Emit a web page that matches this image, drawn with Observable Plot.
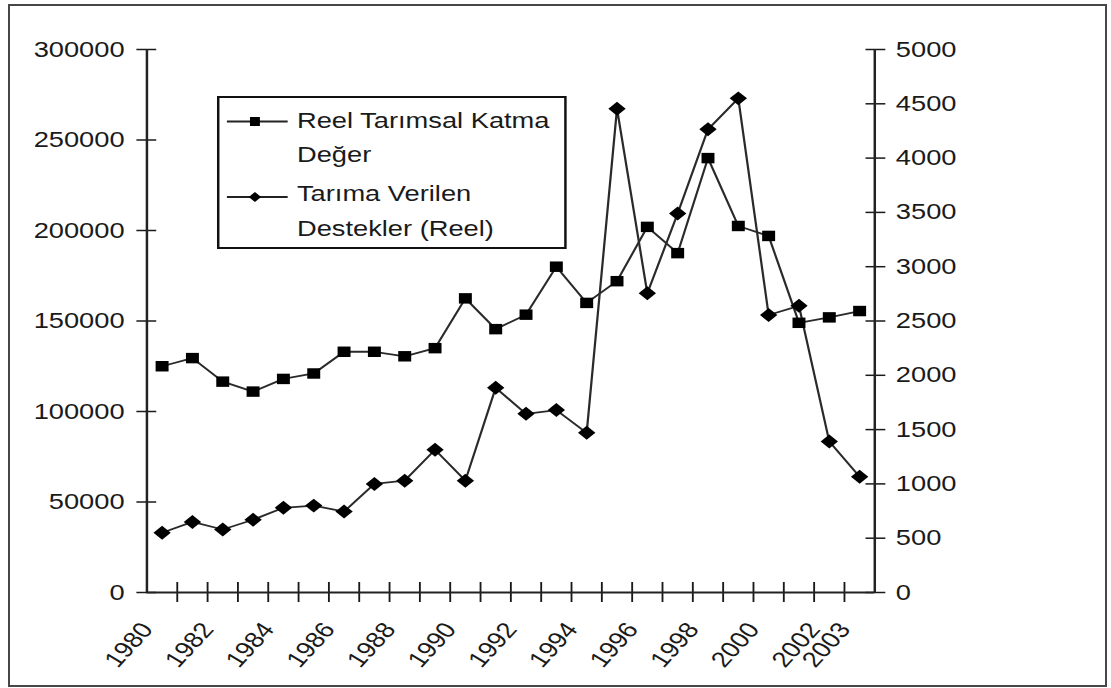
<!DOCTYPE html>
<html>
<head>
<meta charset="utf-8">
<script src="https://cdn.jsdelivr.net/npm/d3@7"></script>
<script src="https://cdn.jsdelivr.net/npm/@observablehq/plot@0.6"></script>
<style>
html, body { margin: 0; padding: 0; background: #fff; overflow: hidden; }
#wrap { position: relative; width: 1111px; height: 688px; }
#frame { position: absolute; left: 8px; top: 4px; width: 1095px; height: 679px; border: 2px solid #474747; pointer-events: none; }
</style>
</head>
<body>
<div id="wrap"><div id="chart"></div><div id="frame"></div></div>
<script>
// ---- data ----
const years = [1980, 1981, 1982, 1983, 1984, 1985, 1986, 1987, 1988, 1989, 1990, 1991,
               1992, 1993, 1994, 1995, 1996, 1997, 1998, 1999, 2000, 2001, 2002, 2003];
// Reel Tarımsal Katma Değer (left axis)
const katmaDeger = [125000, 129500, 116500, 111000, 118000, 121000, 133000, 133000, 130500, 135000, 162500, 145500,
                    153500, 180000, 160000, 172000, 202000, 187500, 240000, 202500, 197000, 149000, 152000, 155500];
// Tarıma Verilen Destekler (Reel) (right axis)
const destekler = [550, 650, 580, 670, 780, 800, 745, 1000, 1030, 1315, 1030, 1885,
                   1645, 1680, 1470, 4455, 2755, 3490, 4265, 4550, 2555, 2640, 1390, 1065];
const leftTicks = [0, 50000, 100000, 150000, 200000, 250000, 300000];
const rightTicks = [0, 500, 1000, 1500, 2000, 2500, 3000, 3500, 4000, 4500, 5000];
const yearLabels = [1980, 1982, 1984, 1986, 1988, 1990, 1992, 1994, 1996, 1998, 2000, 2002, 2003];
const legendSeries1 = ["Reel Tarımsal Katma", "Değer"];
const legendSeries2 = ["Tarıma Verilen", "Destekler (Reel)"];

// ---- layout ----
const K = 1.24;                 // horizontal stretch of the original picture
const W = Math.round(1111 / K); // internal width
const H = 688;
const RATIO = 300000 / 5000;    // right axis -> left axis units
const FONT = "'Liberation Sans', Arial, Helvetica, sans-serif";
const INK = "#1a1a1a";

const rows1 = years.map((y, i) => ({year: y, v: katmaDeger[i]}));
const rows2 = years.map((y, i) => ({year: y, v: destekler[i] * RATIO}));
const boundaries = years.slice(0, -1).map(y => y + 0.5);

const plot = Plot.plot({
  width: W,
  height: H,
  marginLeft: 118,
  marginRight: 191,
  marginTop: 49,
  marginBottom: 96,
  x: {type: "linear", domain: [1979.5, 2003.5]},
  y: {domain: [0, 300000]},
  style: {fontFamily: FONT, fontSize: "22px", color: INK, background: "#fff"},
  marks: [
    Plot.axisY(leftTicks, {anchor: "left", tickSize: 16, dx: 8, tickPadding: 10,
      tickFormat: d => String(d), label: null, strokeWidth: 1.5}),
    Plot.axisY(rightTicks.map(v => v * RATIO), {anchor: "right", tickSize: 16, dx: -8, tickPadding: 9,
      tickFormat: d => String(Math.round(d / RATIO)), label: null, strokeWidth: 1.5}),
    Plot.axisX(boundaries, {anchor: "bottom", tickSize: 20, dy: -10, fill: "none",
      tickFormat: () => "", label: null, strokeWidth: 1.5}),
    Plot.axisX(yearLabels, {anchor: "bottom", tickSize: 0, tickPadding: 33, dx: -12, tickRotate: -53,
      tickFormat: d => String(d), label: null}),
    Plot.ruleX([1979.5, 2003.5], {stroke: "#222", strokeWidth: 2}),
    Plot.ruleY([0], {stroke: "#222", strokeWidth: 2}),
    Plot.line(rows1, {x: "year", y: "v", stroke: "#2a2a2a", strokeWidth: 1.8}),
    Plot.line(rows2, {x: "year", y: "v", stroke: "#2a2a2a", strokeWidth: 1.8}),
    Plot.dot(rows1, {x: "year", y: "v", symbol: "square", r: 5.9, fill: "#000", stroke: "none"}),
    Plot.dot(rows2, {x: "year", y: "v", symbol: "diamond2", r: 6.3, fill: "#000", stroke: "none"})
  ]
});

// ---- legend (inside the plot area, top-left) ----
const svg = d3.select(plot);
const lg = svg.append("g").attr("font-family", FONT).attr("font-size", 22).attr("fill", INK)
  .attr("text-anchor", "start");
lg.append("rect").attr("x", 176).attr("y", 97).attr("width", 280).attr("height", 151)
  .attr("fill", "#fff").attr("stroke", "#111").attr("stroke-width", 2);
const items = [
  {lines: legendSeries1, sampleY: 121.5, baselines: [128, 162], shape: "square"},
  {lines: legendSeries2, sampleY: 197, baselines: [201, 236], shape: "diamond"}
];
for (const it of items) {
  lg.append("line").attr("x1", 183).attr("x2", 232).attr("y1", it.sampleY).attr("y2", it.sampleY)
    .attr("stroke", "#222").attr("stroke-width", 1.8);
  if (it.shape === "square") {
    lg.append("rect").attr("x", 205.6 - 4).attr("y", it.sampleY - 4.5).attr("width", 8).attr("height", 9).attr("fill", "#000");
  } else {
    const cx = 205.6, cy = it.sampleY, r = 5;
    lg.append("path").attr("d", `M${cx},${cy - r}L${cx + r},${cy}L${cx},${cy + r}L${cx - r},${cy}Z`).attr("fill", "#000");
  }
  it.lines.forEach((t, j) => {
    lg.append("text").attr("x", 239.5).attr("y", it.baselines[j]).attr("text-anchor", "start").text(t);
  });
}

// stretch horizontally like the original picture
plot.setAttribute("width", 1111);
plot.setAttribute("height", H);
plot.setAttribute("preserveAspectRatio", "none");
plot.style.width = "1111px";
plot.style.height = H + "px";
plot.style.maxWidth = "none";
plot.style.display = "block";
document.getElementById("chart").append(plot);
</script>
</body>
</html>
